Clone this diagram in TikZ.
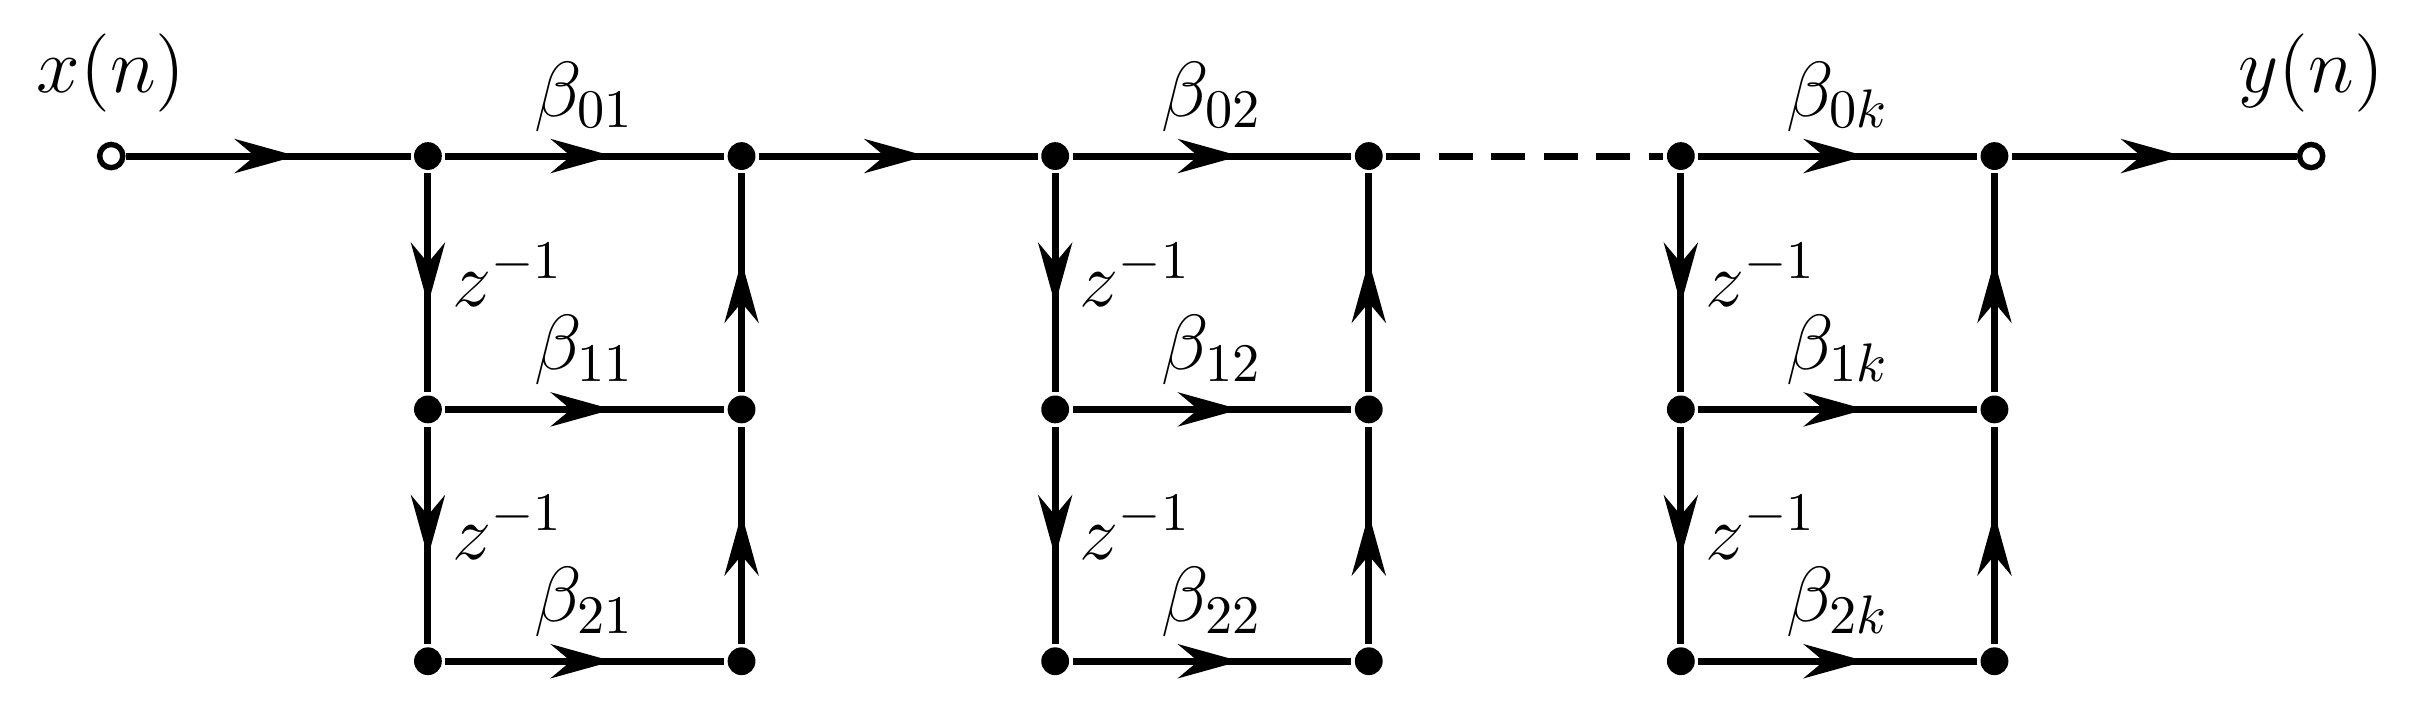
\documentclass[tikz,border=0pt]{standalone}
\usepackage{tikz}
\usetikzlibrary{arrows.meta,decorations.markings,positioning}
\begin{document}
\begin{tikzpicture}[
    line width=1.3pt,
    dot/.style={circle, fill=black, inner sep=0pt, minimum size=0.18cm},
    port/.style={circle, draw=black, fill=white, line width=1pt, inner sep=0pt, minimum size=0.15cm},
    flow/.style={decoration={markings, mark=at position 0.6 with {\arrow{Stealth[length=0.4cm,width=0.22cm]}}}, postaction={decorate}},
    lbl/.style={font=\Large}
]
\useasboundingbox (0,0) rectangle (15.6,-4.58);

% Input and output
\node (xin) [port] at (0.72,-1.01) {};
\node (yout) [port] at (14.96,-1.01) {};
\node [lbl, above=0.05cm of xin] {$x(n)$};
\node [lbl, above=0.05cm of yout] {$y(n)$};

% Sections
\foreach \i/\x in {1/2.77, 2/6.83, 3/10.88} {
  \node (a\i0) [dot] at (\x,-1.01) {};
  \node (a\i1) [dot] at (\x,-2.65) {};
  \node (a\i2) [dot] at (\x,-4.28) {};
  \node (b\i0) [dot] at (\x+2.03,-1.01) {};
  \node (b\i1) [dot] at (\x+2.03,-2.65) {};
  \node (b\i2) [dot] at (\x+2.03,-4.28) {};
}

% Branches
\foreach \i/\k in {1/1, 2/2, 3/k} {
  \draw [flow] (a\i0) -- (b\i0) node [lbl, midway, above=0.02cm] {$\beta_{0\k}$};
  \draw [flow] (a\i1) -- (b\i1) node [lbl, midway, above=0.02cm] {$\beta_{1\k}$};
  \draw [flow] (a\i2) -- (b\i2) node [lbl, midway, above=0.02cm] {$\beta_{2\k}$};
  \draw [flow] (a\i0) -- (a\i1) node [lbl, midway, right=0.02cm, yshift=0.05cm] {$z^{-1}$};
  \draw [flow] (a\i1) -- (a\i2) node [lbl, midway, right=0.02cm, yshift=0.05cm] {$z^{-1}$};
  \draw [flow] (b\i2) -- (b\i1);
  \draw [flow] (b\i1) -- (b\i0);
}

% Cascade
\draw [flow] (xin) -- (a10);
\draw [flow] (b10) -- (a20);
\draw [dashed, dash pattern=on 0.22cm off 0.12cm] (b20) -- (a30);
\draw [flow] (b30) -- (yout);
\end{tikzpicture}
\end{document}
